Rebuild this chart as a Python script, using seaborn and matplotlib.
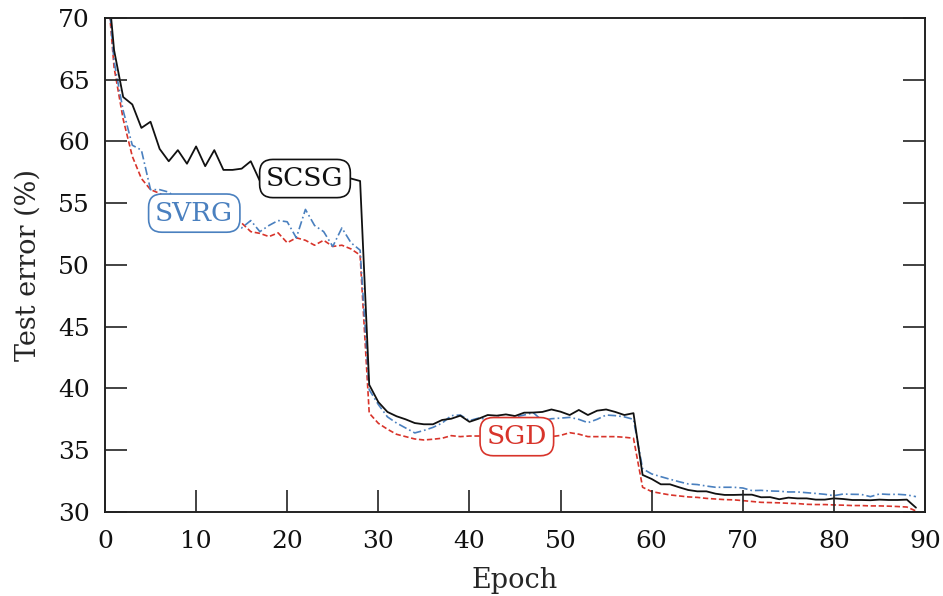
import numpy as np
import pandas as pd
import seaborn as sns
import matplotlib
matplotlib.use("Agg")
import matplotlib.pyplot as plt

# Test error (%) per epoch for the three optimisers
epochs = list(range(0, 90))

scsg = [75.5, 67.4, 63.6, 63.0, 61.1, 61.6, 59.4, 58.4, 59.3, 58.2,
        59.6, 58.0, 59.3, 57.7, 57.7, 57.8, 58.4, 56.8, 57.0, 57.2,
        57.0, 57.3, 57.1, 56.9, 57.2, 57.0, 57.1, 57.0, 56.8, 40.3,
        38.9, 38.1, 37.75, 37.5, 37.2, 37.1, 37.1, 37.45, 37.55, 37.8,
        37.3, 37.55, 37.85, 37.8, 37.9, 37.77, 38.04, 38.05, 38.1, 38.3,
        38.12, 37.85, 38.26, 37.85, 38.2, 38.3, 38.1, 37.85, 38.0, 33.0,
        32.67, 32.24, 32.24, 32.0, 31.78, 31.67, 31.67, 31.48, 31.38, 31.38,
        31.4, 31.4, 31.19, 31.2, 31.03, 31.16, 31.1, 31.1, 31.0, 31.0,
        31.1, 31.05, 30.97, 30.97, 30.95, 31.0, 30.97, 30.97, 31.0, 30.35]

svrg = [75.0, 66.5, 62.5, 59.7, 59.3, 56.1, 56.1, 55.9, 55.3, 54.8,
        54.5, 54.2, 54.0, 53.7, 53.3, 53.0, 53.6, 52.7, 53.2, 53.6,
        53.5, 52.2, 54.5, 53.2, 52.7, 51.5, 53.0, 51.8, 51.2, 39.9,
        38.7, 37.7, 37.2, 36.8, 36.4, 36.6, 36.85, 37.2, 37.8, 37.85,
        37.4, 37.6, 37.5, 37.7, 37.55, 37.7, 37.85, 38.04, 37.4, 37.55,
        37.6, 37.66, 37.5, 37.23, 37.5, 37.85, 37.8, 37.7, 37.5, 33.5,
        33.08, 32.86, 32.65, 32.45, 32.27, 32.22, 32.1, 32.0, 32.0, 32.0,
        31.94, 31.73, 31.75, 31.7, 31.68, 31.62, 31.62, 31.56, 31.5, 31.43,
        31.32, 31.45, 31.43, 31.42, 31.24, 31.46, 31.42, 31.43, 31.38, 31.24]

sgd = [75.0, 66.0, 61.8, 58.8, 57.0, 56.1, 55.8, 55.3, 55.0, 54.7,
       54.4, 54.2, 54.0, 53.8, 53.6, 53.4, 52.7, 52.56, 52.3, 52.6,
       51.8, 52.2, 52.0, 51.6, 52.0, 51.5, 51.6, 51.3, 50.8, 38.0,
       37.18, 36.7, 36.29, 36.1, 35.91, 35.83, 35.89, 35.97, 36.18, 36.1,
       36.15, 36.15, 36.2, 36.2, 36.25, 36.3, 36.2, 36.15, 36.2, 36.1,
       36.2, 36.42, 36.3, 36.1, 36.1, 36.1, 36.1, 36.05, 35.97, 32.0,
       31.65, 31.51, 31.38, 31.3, 31.22, 31.18, 31.1, 31.05, 31.0, 30.98,
       30.92, 30.85, 30.78, 30.76, 30.74, 30.7, 30.68, 30.62, 30.6, 30.6,
       30.57, 30.55, 30.52, 30.52, 30.49, 30.49, 30.47, 30.44, 30.4, 30.08]

x_ticks = list(range(0, 91, 10))
y_ticks = list(range(30, 71, 5))

sns.set_theme(style="ticks")
plt.rcParams["font.family"] = ["DejaVu Serif"]
plt.rcParams["axes.edgecolor"] = "#111111"
plt.rcParams["axes.linewidth"] = 1.3
plt.rcParams["axes.axisbelow"] = False

fig = plt.figure(figsize=(9.43, 5.96), dpi=100)
ax = fig.add_axes([0.1113, 0.141, 0.8697, 0.8288])

black = "#111111"
blue = "#4a80bf"
red = "#d8342b"

df = pd.DataFrame({"Epoch": epochs, "SCSG": scsg, "SVRG": svrg, "SGD": sgd})

sns.lineplot(data=df, x="Epoch", y="SGD", ax=ax, color=red, lw=1.2,
             linestyle=(0, (3.2, 1.6)))
sns.lineplot(data=df, x="Epoch", y="SVRG", ax=ax, color=blue, lw=1.2,
             linestyle=(0, (5, 1.8, 1, 1.8)))
sns.lineplot(data=df, x="Epoch", y="SCSG", ax=ax, color=black, lw=1.3)

# Series labels in rounded boxes
def tag(text, x, y, col):
    ax.text(x, y, text, fontsize=19, color=col, ha="center", va="center",
            zorder=5,
            bbox=dict(boxstyle="round,pad=0.25,rounding_size=0.5",
                      fc="white", ec=col, lw=1.2))

tag("SCSG", 21.95, 57.0, black)
tag("SVRG", 9.8, 54.2, blue)
tag("SGD", 45.2, 36.1, red)

ax.set_xlim(0, 90)
ax.set_ylim(30, 70)
ax.set_xticks(x_ticks)
ax.set_yticks(y_ticks)
ax.set_xlabel("Epoch", fontsize=19.5, labelpad=10)
ax.set_ylabel("Test error (%)", fontsize=19.5, labelpad=12)
ax.set_axisbelow(False)
ax.tick_params(axis="x", which="major", direction="in", length=16,
               width=1.2, labelsize=18, color="#222222",
               labelcolor="#111111", pad=13, bottom=True, top=False)
ax.tick_params(axis="y", which="major", direction="in", length=16,
               width=1.2, labelsize=18, color="#222222",
               labelcolor="#111111", pad=11, left=True, right=True,
               labelleft=True, labelright=False)
for t in ax.yaxis.get_major_ticks():
    t.tick1line.set_visible(True)
    t.tick2line.set_visible(True)

fig.savefig("out.png", dpi=100)
